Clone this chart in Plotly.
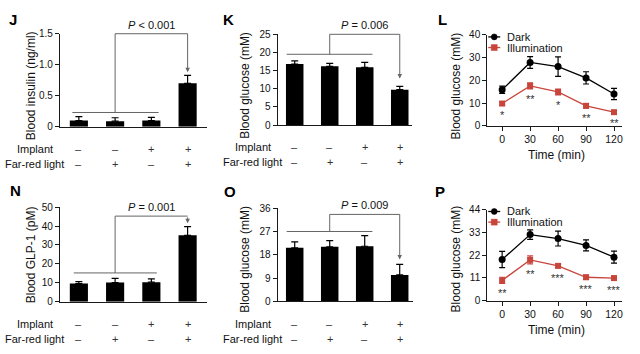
import plotly.graph_objects as go

W, H = 640, 354
FONT = "Liberation Sans, Arial, sans-serif"
AXC = "#1a1a1a"
GRAY = "#666666"
RED = "#c8453c"

# ---------------- data ----------------
group_pos = [0, 1, 2, 3]
implant_signs = ["–", "–", "+", "+"]
farred_signs = ["–", "+", "–", "+"]

insulin_mean = [0.10, 0.09, 0.10, 0.70]
insulin_err = [0.065, 0.055, 0.05, 0.13]

glucose_k_mean = [16.8, 16.2, 15.9, 9.75]
glucose_k_err = [0.9, 0.8, 1.4, 0.9]

glp1_mean = [9.6, 10.1, 10.3, 35.1]
glp1_err = [1.0, 2.2, 1.7, 4.6]

glucose_o_mean = [20.7, 21.1, 21.3, 10.2]
glucose_o_err = [2.3, 2.4, 4.1, 4.1]

time_min = [0, 30, 60, 90, 120]

l_dark = [15.9, 27.9, 26.1, 21.1, 14.0]
l_dark_err = [1.6, 2.6, 4.3, 2.7, 2.5]
l_illum = [9.8, 17.6, 14.9, 8.8, 6.0]
l_illum_err = [0.8, 1.3, 1.3, 1.0, 0.5]
l_stars = ["*", "**", "*", "**", "**"]

p_dark = [19.9, 31.9, 30.0, 26.7, 21.0]
p_dark_err = [3.9, 2.3, 3.6, 2.7, 2.9]
p_illum = [9.8, 19.7, 16.8, 11.3, 10.9]
p_illum_err = [1.5, 1.9, 0.8, 1.0, 0.9]
p_stars = ["**", "**", "***", "***", "***"]

# p-value brackets: (low line y, low x0, low x1, top y, arrow tip y, label)
brackets = {
    "J": (0.23, -0.18, 2.2, 1.5, 0.88, "<i>P</i> &lt; 0.001"),
    "K": (19.5, -0.23, 2.22, 25.0, 12.8, "<i>P</i> = 0.006"),
    "N": (15.2, -0.14, 2.15, 45.3, 41.5, "<i>P</i> = 0.001"),
    "O": (27.0, -0.23, 2.22, 33.6, 16.2, "<i>P</i> = 0.009"),
}

# ---------------- panel geometry (pixels) ----------------
panels = {
    "J": dict(x=(60, 207), y=(28.7, 125), xr=(-0.523, 3.526), yr=(0, 1.5),
              yt=[0, 0.5, 1.0, 1.5], ytt=["0", "0.5", "1.0", "1.5"],
              title="Blood insulin (ng/ml)", tpos=(31, 82), letter=(13.5, 13.5)),
    "K": dict(x=(278, 413), y=(29.3, 123.3), xr=(-0.49, 3.36), yr=(0, 25),
              yt=[0, 5, 10, 15, 20, 25], ytt=None,
              title="Blood glucose (mM)", tpos=(246, 82), letter=(229, 13.5)),
    "L": dict(x=(488, 623), y=(30, 124), xr=(-16, 128.6), yr=(0, 40),
              yt=[0, 10, 20, 30, 40], ytt=None,
              title="Blood glucose (mM)", tpos=(457, 83), letter=(443, 13.5)),
    "N": dict(x=(60, 207), y=(208.3, 306), xr=(-0.523, 3.526), yr=(0, 50),
              yt=[0, 10, 20, 30, 40, 50], ytt=None,
              title="Blood GLP-1 (pM)", tpos=(31, 257), letter=(16, 191)),
    "O": dict(x=(278, 414), y=(209.3, 305.7), xr=(-0.49, 3.39), yr=(0, 36),
              yt=[0, 9, 18, 27, 36], ytt=None,
              title="Blood glucose (mM)", tpos=(246, 262), letter=(230, 192)),
    "P": dict(x=(488, 623), y=(210.7, 305), xr=(-16, 128.6), yr=(0, 44),
              yt=[0, 11, 22, 33, 44], ytt=None,
              title="Blood glucose (mM)", tpos=(457, 262), letter=(441, 192)),
}
order = ["J", "K", "L", "N", "O", "P"]


def xpix(p, v):
    x0, x1 = p["x"]; r0, r1 = p["xr"]
    return x0 + (v - r0) / (r1 - r0) * (x1 - x0)


def ypix(p, v):
    top, bot = p["y"]; r0, r1 = p["yr"]
    return bot - (v - r0) / (r1 - r0) * (bot - top)


def px2paper_x(v):
    return v / W


def px2paper_y(v):
    return 1 - v / H


fig = go.Figure()
layout = dict(
    width=W, height=H, margin=dict(l=0, r=0, t=0, b=0),
    paper_bgcolor="white", plot_bgcolor="white", showlegend=False,
    font=dict(family=FONT, size=11, color="#111"),
)
annotations = []
shapes = []

for i, key in enumerate(order):
    p = panels[key]
    sfx = "" if i == 0 else str(i + 1)
    p["sfx"] = sfx
    is_line = key in ("L", "P")
    xa = dict(domain=[p["x"][0] / W, p["x"][1] / W], range=list(p["xr"]),
              anchor="y" + sfx, showline=True, linecolor=AXC, linewidth=1,
              showgrid=False, zeroline=False, fixedrange=True)
    if is_line:
        xa.update(tickvals=time_min, ticks="outside", ticklen=4, tickwidth=1,
                  tickcolor=AXC, tickfont=dict(size=10.5, color="#111"))
    else:
        xa.update(showticklabels=False, ticks="")
    ya = dict(domain=[1 - p["y"][1] / H, 1 - p["y"][0] / H], range=list(p["yr"]),
              anchor="x" + sfx, showline=True, linecolor=AXC, linewidth=1,
              showgrid=False, zeroline=False, ticks="outside", ticklen=4,
              tickwidth=1, tickcolor=AXC, tickvals=p["yt"],
              tickfont=dict(size=10, color="#111"), fixedrange=True)
    if p["ytt"]:
        ya["ticktext"] = p["ytt"]
    layout["xaxis" + sfx] = xa
    layout["yaxis" + sfx] = ya

    # y title
    annotations.append(dict(text=p["title"], textangle=-90, xref="paper", yref="paper",
                            x=px2paper_x(p["tpos"][0]), y=px2paper_y(p["tpos"][1]),
                            xanchor="center", yanchor="middle", showarrow=False,
                            font=dict(size=12, color="#111")))
    # panel letter
    annotations.append(dict(text="<b>%s</b>" % key, xref="paper", yref="paper",
                            x=px2paper_x(p["letter"][0]), y=px2paper_y(p["letter"][1]),
                            xanchor="center", yanchor="middle", showarrow=False,
                            font=dict(size=15, color="#000")))

# ---------------- bar panels ----------------
bar_data = {
    "J": (insulin_mean, insulin_err),
    "K": (glucose_k_mean, glucose_k_err),
    "N": (glp1_mean, glp1_err),
    "O": (glucose_o_mean, glucose_o_err),
}
for key, (vals, errs) in bar_data.items():
    p = panels[key]
    sfx = p["sfx"]
    fig.add_trace(go.Bar(
        x=group_pos, y=vals, width=0.5, marker=dict(color="black", line=dict(width=0)),
        error_y=dict(type="data", array=errs, arrayminus=[0] * len(errs), symmetric=False,
                     width=3.5, thickness=1.2, color="black"),
        xaxis="x" + sfx, yaxis="y" + sfx))

    # Implant / Far-red rows
    axis_y = p["y"][1]
    row1 = axis_y + 23
    row2 = axis_y + 38.5
    lab_x = p["x"][0] - 25
    annotations.append(dict(text="Implant", xref="paper", yref="paper",
                            x=px2paper_x(lab_x), y=px2paper_y(row1), xanchor="center",
                            yanchor="middle", showarrow=False, font=dict(size=11)))
    annotations.append(dict(text="Far-red light", xref="paper", yref="paper",
                            x=px2paper_x(lab_x), y=px2paper_y(row2), xanchor="center",
                            yanchor="middle", showarrow=False, font=dict(size=11)))
    for g, s1, s2 in zip(group_pos, implant_signs, farred_signs):
        for s, ry in ((s1, row1), (s2, row2)):
            annotations.append(dict(text=s, xref="paper", yref="paper",
                                    x=px2paper_x(xpix(p, g)), y=px2paper_y(ry),
                                    xanchor="center", yanchor="middle", showarrow=False,
                                    font=dict(size=11, color="#333")))

    # bracket
    ly, lx0, lx1, ty, tip, lab = brackets[key]
    stem_x = group_pos[1]
    end_x = group_pos[3]
    segs = [((lx0, ly), (lx1, ly)), ((stem_x, ly), (stem_x, ty)), ((stem_x, ty), (end_x, ty))]
    for (a, b), (c, d) in segs:
        shapes.append(dict(type="line", xref="paper", yref="paper",
                           x0=px2paper_x(xpix(p, a)), y0=px2paper_y(ypix(p, b)),
                           x1=px2paper_x(xpix(p, c)), y1=px2paper_y(ypix(p, d)),
                           line=dict(color=GRAY, width=1)))
    annotations.append(dict(text="", xref="paper", yref="paper",
                            x=px2paper_x(xpix(p, end_x)), y=px2paper_y(ypix(p, tip)),
                            ax=0, ay=-(ypix(p, tip) - ypix(p, ty)), axref="pixel", ayref="pixel",
                            showarrow=True, arrowhead=2, arrowsize=0.9, arrowwidth=1,
                            arrowcolor=GRAY, standoff=0, startstandoff=0))
    annotations.append(dict(text=lab, xref="paper", yref="paper",
                            x=px2paper_x(xpix(p, (stem_x + end_x) / 2)),
                            y=px2paper_y(ypix(p, ty)), yshift=1,
                            xanchor="center", yanchor="bottom", showarrow=False,
                            font=dict(size=11, color="#111")))

# ---------------- line panels ----------------
line_data = {
    "L": (l_dark, l_dark_err, l_illum, l_illum_err, l_stars),
    "P": (p_dark, p_dark_err, p_illum, p_illum_err, p_stars),
}
for key, (dk, dke, il, ile, stars) in line_data.items():
    p = panels[key]
    sfx = p["sfx"]
    fig.add_trace(go.Scatter(
        x=time_min, y=dk, mode="lines+markers", name="Dark",
        line=dict(color="black", width=1.3),
        marker=dict(symbol="circle", size=7, color="black"),
        error_y=dict(type="data", array=dke, width=3, thickness=1.2, color="black"),
        xaxis="x" + sfx, yaxis="y" + sfx, cliponaxis=False))
    fig.add_trace(go.Scatter(
        x=time_min, y=il, mode="lines+markers", name="Illumination",
        line=dict(color=RED, width=1.3),
        marker=dict(symbol="square", size=6, color=RED),
        error_y=dict(type="data", array=ile, width=3, thickness=1.2, color=RED),
        xaxis="x" + sfx, yaxis="y" + sfx, cliponaxis=False))
    for t, v, e, s in zip(time_min, il, ile, stars):
        annotations.append(dict(text=s, xref="x" + sfx, yref="y" + sfx, x=t, y=v - e,
                                xanchor="center", yanchor="top", yshift=-2,
                                showarrow=False, font=dict(size=11, color="#333")))
    # x title
    annotations.append(dict(text="Time (min)", xref="paper", yref="paper",
                            x=px2paper_x((p["x"][0] + p["x"][1]) / 2 + 2),
                            y=px2paper_y(p["y"][1] + 30), xanchor="center", yanchor="middle",
                            showarrow=False, font=dict(size=12, color="#111")))
    # legend
    leg_x = p["x"][0] + 7
    top = p["y"][0]
    for j, (nm, col, sym) in enumerate((("Dark", "black", "circle"), ("Illumination", RED, "rect"))):
        ly = top + 2 + j * 11
        shapes.append(dict(type="line", xref="paper", yref="paper",
                           x0=px2paper_x(leg_x - 6), x1=px2paper_x(leg_x + 6),
                           y0=px2paper_y(ly), y1=px2paper_y(ly),
                           line=dict(color=col, width=1.3)))
        shapes.append(dict(type=sym, xref="paper", yref="paper",
                           xsizemode="pixel", ysizemode="pixel",
                           xanchor=px2paper_x(leg_x), yanchor=px2paper_y(ly),
                           x0=-3, x1=3, y0=-3, y1=3,
                           fillcolor=col, line=dict(color=col, width=0.5)))
        annotations.append(dict(text=nm, xref="paper", yref="paper",
                                x=px2paper_x(leg_x + 11), y=px2paper_y(ly),
                                xanchor="left", yanchor="middle", showarrow=False,
                                font=dict(size=11, color="#111")))

layout["annotations"] = annotations
layout["shapes"] = shapes
fig.update_layout(**layout)
fig.write_html("out.html")
